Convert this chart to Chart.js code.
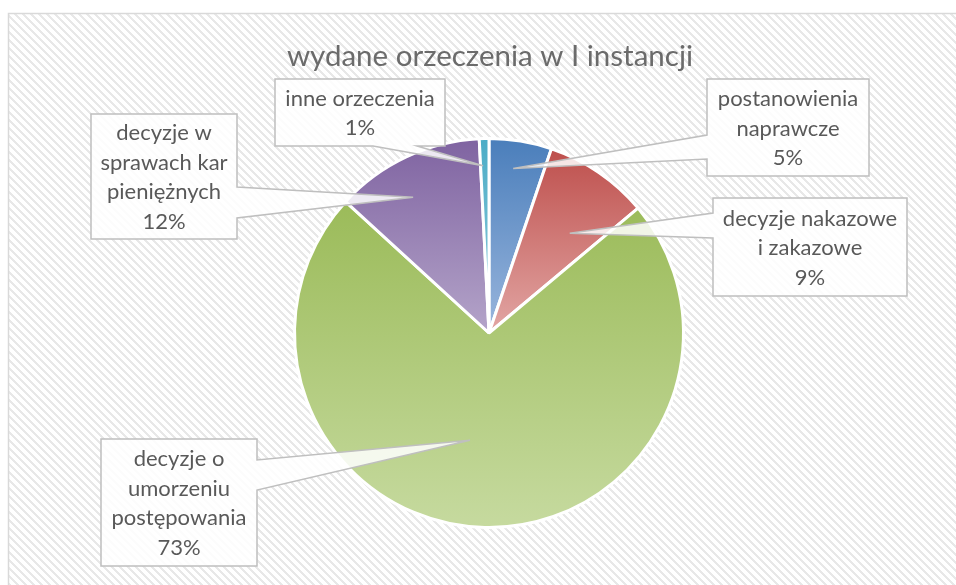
<!DOCTYPE html>
<html>
<head>
<meta charset="utf-8">
<script src="https://cdn.jsdelivr.net/npm/chart.js@4"></script>
<style>
  html, body { margin: 0; padding: 0; background: #fff; }
  #wrap { width: 956px; height: 585px; position: relative; }
</style>
</head>
<body>
<div id="wrap"><canvas id="chart"></canvas></div>
<script>
// data
const CATEGORIES = [
  "postanowienia\nnaprawcze",
  "decyzje nakazowe\ni zakazowe",
  "decyzje o\numorzeniu\npostępowania",
  "decyzje w\nsprawach kar\npieniężnych",
  "inne orzeczenia",
];
const VALUES = [5.2, 8.7, 72.9, 12.4, 0.8];
const TITLE = "wydane orzeczenia w I instancji";

// gradient top / bottom colours per slice
const TOP_COLORS    = ["#4a7ebb", "#be4f4c", "#9bbb59", "#7f63a1", "#4bacc6"];
const BOTTOM_COLORS = ["#9ab6dd", "#e2a6a4", "#c6da9f", "#b4a4c9", "#93cddd"];

// callout boxes: box rect, which side the pointer leaves from, pointer base, tip placement
const CALLOUTS = [
  { box: [707, 79, 162, 97],  side: "left",   base: [135, 159], tipAngle: -1,   tipFrac: 0.855 },
  { box: [713, 198, 194, 98], side: "left",   base: [213, 238], tipAngle: 4.6,  tipFrac: 0.66 },
  { box: [101, 439, 156, 127], side: "right", base: [460, 490], tipAngle: 8.8,  tipFrac: 0.56 },
  { box: [91, 114, 146, 125], side: "right",  base: [187, 218], tipAngle: -4,   tipFrac: 0.80 },
  { box: [275, 79, 170, 67],  side: "bottom", base: [373, 417], tipAngle: -0.6, tipFrac: 0.86 },
];

const FONT = "Lato, 'Open Sans', sans-serif";
const TEXT_COLOR = "#595959";

function makeHatch(ctx) {
  const c = document.createElement("canvas");
  c.width = 8; c.height = 8;
  const g = c.getContext("2d");
  const img = g.createImageData(8, 8);
  for (let y = 0; y < 8; y++) {
    for (let x = 0; x < 8; x++) {
      const d = ((x - y) % 8 + 8) % 8;
      const v = d < 3 ? 232 : 255;
      const i = (y * 8 + x) * 4;
      img.data[i] = v; img.data[i + 1] = v; img.data[i + 2] = v; img.data[i + 3] = 255;
    }
  }
  g.putImageData(img, 0, 0);
  return ctx.createPattern(c, "repeat");
}

const backgroundPlugin = {
  id: "background",
  beforeDraw(chart) {
    const ctx = chart.ctx;
    ctx.save();
    ctx.fillStyle = "#fff";
    ctx.fillRect(0, 0, chart.width, chart.height);
    ctx.fillStyle = makeHatch(ctx);
    ctx.fillRect(8, 13, chart.width, chart.height);
    ctx.strokeStyle = "#d9d9d9";
    ctx.lineWidth = 1.5;
    ctx.strokeRect(8.5, 13.5, chart.width + 10, chart.height + 10);

    ctx.fillStyle = "#6b6b6b";
    ctx.font = "29.5px " + FONT;
    ctx.textAlign = "center";
    ctx.textBaseline = "middle";
    ctx.fillText(TITLE, 490, 56);
    ctx.restore();
  },
};

// vertical gradient over each slice's own bounding box
const gradientPlugin = {
  id: "sliceGradient",
  beforeDatasetsDraw(chart) {
    const ctx = chart.ctx;
    const meta = chart.getDatasetMeta(0);
    meta.data.forEach((arc, i) => {
      const { x, y, startAngle, endAngle, outerRadius } = arc.getProps(["x", "y", "startAngle", "endAngle", "outerRadius"]);
      const ys = [y, y + outerRadius * Math.sin(startAngle), y + outerRadius * Math.sin(endAngle)];
      [-Math.PI / 2, Math.PI / 2, 3 * Math.PI / 2].forEach(a => {
        if (a >= startAngle && a <= endAngle) ys.push(y + outerRadius * Math.sin(a));
      });
      const g = ctx.createLinearGradient(0, Math.min(...ys), 0, Math.max(...ys));
      g.addColorStop(0, TOP_COLORS[i]);
      g.addColorStop(1, BOTTOM_COLORS[i]);
      arc.options = Object.assign({}, arc.options, { backgroundColor: g });
    });
  },
};

function calloutPath(ctx, c, tip) {
  const [bx, by, bw, bh] = c.box;
  const r = bx + bw, b = by + bh;
  const pts = [[bx, by], [r, by]];
  if (c.side === "right") pts.push([r, c.base[0]], tip, [r, c.base[1]]);
  pts.push([r, b]);
  if (c.side === "bottom") pts.push([c.base[1], b], tip, [c.base[0], b]);
  pts.push([bx, b]);
  if (c.side === "left") pts.push([bx, c.base[1]], tip, [bx, c.base[0]]);
  ctx.beginPath();
  pts.forEach((p, i) => i ? ctx.lineTo(p[0], p[1]) : ctx.moveTo(p[0], p[1]));
  ctx.closePath();
}

const calloutPlugin = {
  id: "callouts",
  afterDatasetsDraw(chart) {
    const ctx = chart.ctx;
    const meta = chart.getDatasetMeta(0);
    const total = VALUES.reduce((s, v) => s + v, 0);
    ctx.save();
    CALLOUTS.forEach((c, i) => {
      const arc = meta.data[i];
      const { x, y, startAngle, endAngle, outerRadius } = arc.getProps(["x", "y", "startAngle", "endAngle", "outerRadius"]);
      const a = (startAngle + endAngle) / 2 + c.tipAngle * Math.PI / 180;
      const tip = [x + Math.cos(a) * outerRadius * c.tipFrac, y + Math.sin(a) * outerRadius * c.tipFrac];

      calloutPath(ctx, c, tip);
      ctx.fillStyle = "rgba(255,255,255,0.85)";
      ctx.fill();
      ctx.strokeStyle = "#bfbfbf";
      ctx.lineWidth = 1.5;
      ctx.stroke();

      const lines = CATEGORIES[i].split("\n").concat(Math.round(VALUES[i] / total * 100) + "%");
      const lh = 29.5;
      const [bx, by, bw, bh] = c.box;
      const cy = by + bh / 2 - (lines.length - 1) * lh / 2;
      ctx.fillStyle = TEXT_COLOR;
      ctx.font = "22px " + FONT;
      ctx.textAlign = "center";
      ctx.textBaseline = "middle";
      lines.forEach((t, k) => ctx.fillText(t, bx + bw / 2, cy + k * lh + 1));
    });
    ctx.restore();
  },
};

new Chart(document.getElementById("chart"), {
  type: "pie",
  data: {
    labels: CATEGORIES,
    datasets: [{
      data: VALUES,
      backgroundColor: TOP_COLORS,
      borderColor: "#ffffff",
      borderWidth: 3,
    }],
  },
  options: {
    responsive: true,
    maintainAspectRatio: false,
    animation: false,
    layout: { padding: { top: 137, bottom: 56, left: 22, right: 0 } },
    plugins: {
      legend: { display: false },
      tooltip: { enabled: false },
      title: { display: false },
    },
  },
  plugins: [backgroundPlugin, gradientPlugin, calloutPlugin],
});
</script>
</body>
</html>
